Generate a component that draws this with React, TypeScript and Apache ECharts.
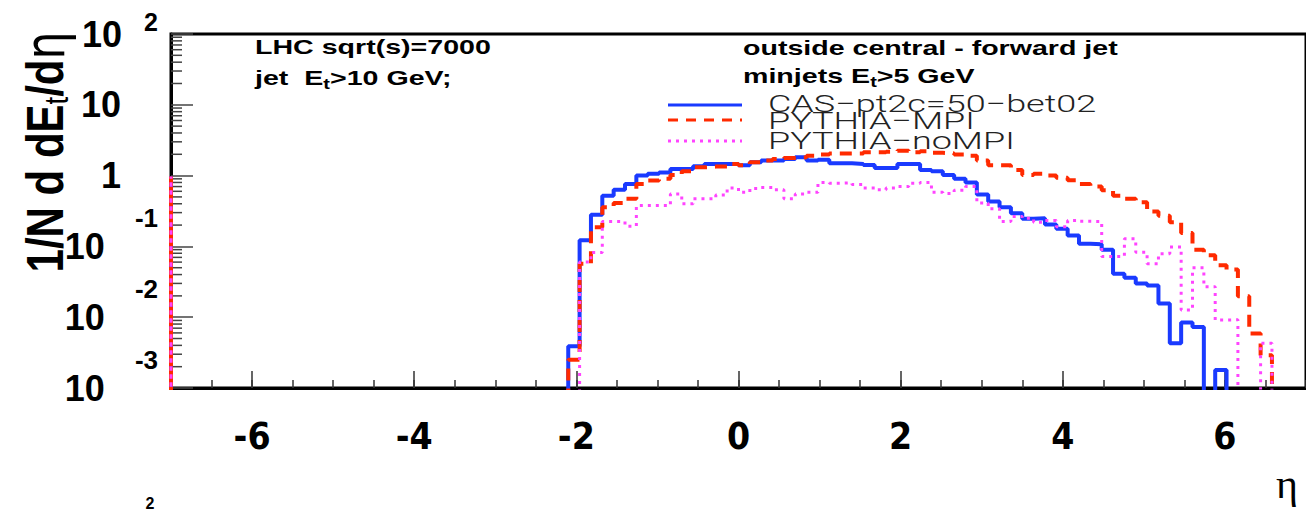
import React, { useEffect, useRef } from "react";
import * as echarts from "echarts";

// ---- axis ranges and ticks ----
const etaMin = -7;
const etaMax = 7;
const yMin = 0.001;
const yMax = 100;
const xMajorTicks = [-6, -4, -2, 0, 2, 4, 6];

// ---- histogram binning (100 bins of 0.14 in eta over [-7, 7]) ----
const binWidth = 0.14;
const firstBinLow = -2.1; // first non-empty bin lower edge
const leftEdgeValue = 0.97; // ROOT draws the histogram frame edge at eta = -7

const seriesNames = ["CAS\u2212pt2c=50\u2212bet02", "PYTHIA\u2212MPI", "PYTHIA\u2212noMPI"];

// values per bin, starting at eta = -2.1
const casValues = [
  0.0039, 0.122, 0.28, 0.52, 0.63, 0.76, 1.0, 1.06, 1.11, 1.24, 1.24, 1.35, 1.46, 1.46, 1.46, 1.4,
  1.54, 1.63, 1.63, 1.72, 1.81, 1.63, 1.67, 1.49, 1.49, 1.46, 1.41, 1.28, 1.28, 1.46, 1.46, 1.2,
  1.15, 1.02, 0.9, 0.8, 0.54, 0.43, 0.357, 0.294, 0.245, 0.25, 0.204, 0.177, 0.143, 0.109, 0.107,
  0.09, 0.041, 0.036, 0.03, 0.028, 0.0156, 0.0043, 0.0084, 0.0073, 0, 0.0018,
];
const mpiValues = [
  0.0025, 0.057, 0.187, 0.358, 0.41, 0.47, 0.76, 0.85, 0.9, 1.02, 1.15, 1.31, 1.34, 1.34, 1.46, 1.4,
  1.54, 1.63, 1.72, 1.77, 1.81, 1.91, 1.98, 2.06, 2.06, 2.06, 2.13, 2.13, 2.18, 2.25, 2.13, 2.2,
  2.1, 2.06, 1.98, 1.91, 1.63, 1.4, 1.4, 1.2, 1.02, 1.06, 1.0, 0.93, 0.86, 0.76, 0.7, 0.62, 0.52,
  0.47, 0.42, 0.31, 0.27, 0.22, 0.154, 0.09, 0.075, 0.054, 0.047, 0.0198, 0.0059, 0.0029,
];
const noMpiValues = [
  0, 0.06, 0.082, 0.225, 0.225, 0.193, 0.377, 0.377, 0.377, 0.55, 0.4, 0.47, 0.47, 0.53, 0.67, 0.58,
  0.66, 0.68, 0.63, 0.47, 0.55, 0.58, 0.8, 0.78, 0.79, 0.75, 0.67, 0.63, 0.67, 0.7, 0.78, 0.8,
  0.58, 0.56, 0.62, 0.7, 0.41, 0.34, 0.225, 0.265, 0.25, 0.22, 0.232, 0.19, 0.232, 0.226, 0.225,
  0.072, 0.072, 0.128, 0.083, 0.057, 0.079, 0.098, 0.0126, 0.05, 0.027, 0.0091, 0.0092, 0, 0, 0.0043,
];

const colors = ["#1a3aff", "#ff2a00", "#ff44ff"];

function stepPoints(values: number[]) {
  const floor = 1e-4;
  const pts: number[][] = [
    [etaMin, floor],
    [etaMin, leftEdgeValue],
    [etaMin, floor],
    [firstBinLow, floor],
  ];
  let hi = firstBinLow;
  values.forEach((v, i) => {
    const lo = +(firstBinLow + i * binWidth).toFixed(4);
    hi = +(lo + binWidth).toFixed(4);
    const y = v > 0 ? v : floor;
    pts.push([lo, y], [hi, y]);
  });
  pts.push([hi, floor], [etaMax, floor]);
  return pts;
}

function minorLogTicks() {
  const out: number[][] = [];
  for (let k = -3; k < 2; k++) {
    for (let j = 2; j <= 9; j++) out.push([etaMin, +(j * Math.pow(10, k)).toPrecision(3)]);
  }
  return out;
}

const BOLD = "'Liberation Sans', Arial, Helvetica, sans-serif";

export default function App() {
  const ref = useRef<HTMLDivElement>(null);
  useEffect(() => {
    if (!ref.current) return;
    const chart = echarts.init(ref.current, undefined, { renderer: "svg" });
    const yLabel = (value: number) => {
      const k = Math.round(Math.log10(value));
      if (k === 0) return "{one|1}";
      if (k === 1) return "{b1|10}";
      if (k === 2) return "{b2|10}{e2|2}";
      return "{bn|10}{en|" + k + "}";
    };
    const option: any = {
      animation: false,
      backgroundColor: "#ffffff",
      grid: {
        left: 171,
        top: 34,
        width: 1141,
        height: 354,
        show: true,
        borderColor: "#000",
        borderWidth: 3,
        backgroundColor: "transparent",
      },
      xAxis: [
        {
          type: "value",
          min: etaMin,
          max: etaMax,
          position: "bottom",
          axisLine: { show: true, onZero: false, lineStyle: { color: "#000", width: 3 } },
          axisTick: {
            show: true,
            inside: true,
            length: 17,
            customValues: xMajorTicks,
            lineStyle: { color: "#333", width: 1.5 },
          },
          axisLabel: {
            show: true,
            customValues: xMajorTicks,
            margin: 30,
            fontSize: 37,
            fontWeight: "bold",
            lineHeight: 37,
            fontFamily: "'Liberation Sans Narrow', 'DejaVu Sans Condensed', 'Liberation Sans', sans-serif",
            color: "#000",
          },
          splitLine: { show: false },
        },
        {
          type: "value",
          min: etaMin,
          max: etaMax,
          interval: 0.5,
          position: "bottom",
          axisLine: { show: false, onZero: false },
          axisTick: { show: true, inside: true, length: 8, lineStyle: { color: "#333", width: 1.5 } },
          axisLabel: { show: false },
          splitLine: { show: false },
        },
      ],
      yAxis: {
        type: "log",
        logBase: 10,
        min: yMin,
        max: yMax,
        position: "left",
        axisLine: { show: true, onZero: false, lineStyle: { color: "#000", width: 3 } },
        axisTick: { show: true, inside: true, length: 22, lineStyle: { color: "#444", width: 1.5 } },
        splitLine: { show: false },
        axisLabel: {
          margin: 13,
          formatter: yLabel,
          color: "#000",
          rich: {
            one: { fontSize: 36, fontWeight: "bold", fontFamily: BOLD, padding: [0, 37, 0, 0] },
            b1: { fontSize: 36, fontWeight: "bold", fontFamily: BOLD, padding: [0, 37, 0, 0] },
            b2: { fontSize: 36, fontWeight: "bold", fontFamily: BOLD, lineHeight: 50 },
            e2: { fontSize: 25, fontWeight: "bold", fontFamily: BOLD, lineHeight: 20, verticalAlign: "top", padding: [0, 0, 0, 22] },
            bn: { fontSize: 36, fontWeight: "bold", fontFamily: BOLD, lineHeight: 82 },
            en: { fontSize: 26, fontWeight: "bold", fontFamily: BOLD, lineHeight: 20, verticalAlign: "top", padding: [0, 0, 0, 30] },
          },
        },
      },
      series: [
        {
          type: "custom",
          name: "yMinorTicks",
          silent: true,
          clip: false,
          data: minorLogTicks(),
          encode: { x: 0, y: 1 },
          renderItem: (_p: any, api: any) => {
            const p = api.coord([api.value(0), api.value(1)]);
            return {
              type: "line",
              shape: { x1: p[0], y1: p[1], x2: p[0] + 11, y2: p[1] },
              style: { stroke: "#444", lineWidth: 1.5 },
            };
          },
          z: 1,
        },
        {
          name: seriesNames[0],
          type: "line",
          data: stepPoints(casValues),
          showSymbol: false,
          symbol: "none",
          clip: true,
          lineStyle: { color: colors[0], width: 4 },
          itemStyle: { color: colors[0] },
          z: 3,
        },
        {
          name: seriesNames[1],
          type: "line",
          data: stepPoints(mpiValues),
          showSymbol: false,
          symbol: "none",
          clip: true,
          lineStyle: { color: colors[1], width: 4, type: [12, 8] },
          itemStyle: { color: colors[1] },
          z: 4,
        },
        {
          name: seriesNames[2],
          type: "line",
          data: stepPoints(noMpiValues),
          showSymbol: false,
          symbol: "none",
          clip: true,
          lineStyle: { color: colors[2], width: 3, type: [3, 5] },
          itemStyle: { color: colors[2] },
          z: 5,
        },
      ],
      graphic: [
        // y axis title
        {
          type: "text",
          x: 45,
          y: 152,
          rotation: Math.PI / 2,
          scaleX: 1.05,
          scaleY: 1.3,
          style: {
            text: "1/N d dE{s|t}/d{eta|\u03b7}",
            align: "center",
            verticalAlign: "middle",
            textAlign: "center",
            textVerticalAlign: "middle",
            fontSize: 40,
            fontWeight: "bold",
            fontFamily: BOLD,
            fill: "#000",
            rich: {
              s: { fontSize: 26, fontWeight: "normal", fontFamily: BOLD, padding: [18, 0, 0, 0] },
              eta: { fontSize: 42, fontWeight: "normal", fontFamily: "'DejaVu Sans', sans-serif" },
            },
          },
        },
        // x axis title
        {
          type: "text",
          x: 1276,
          y: 484,
          style: {
            text: "\u03b7",
            align: "left",
            verticalAlign: "middle",
            fontSize: 42,
            fontFamily: "'Liberation Serif', 'DejaVu Serif', serif",
            fill: "#000",
          },
        },
        // neighbouring panel label at the bottom edge
        {
          type: "text",
          x: 150,
          y: 503,
          style: { text: "2", align: "center", verticalAlign: "middle", fontSize: 16, fontWeight: "bold", fontFamily: BOLD, fill: "#000" },
        },
        // annotations
        ...[
          { x: 255, y: 47, t: "LHC sqrt(s)=7000" },
          { x: 255, y: 78, t: "jet  E{s|t}>10 GeV;" },
          { x: 743, y: 48, t: "outside central - forward jet" },
          { x: 743, y: 76, t: "minjets E{s|t}>5 GeV" },
        ].map((a) => ({
          type: "text",
          x: a.x,
          y: a.y,
          scaleX: 1.43,
          style: {
            text: a.t,
            align: "left",
            verticalAlign: "middle",
            fontSize: 20,
            fontWeight: "bold",
            fontFamily: BOLD,
            fill: "#000",
            rich: { s: { fontSize: 14, fontWeight: "bold", fontFamily: BOLD, padding: [12, 0, 0, 0] } },
          },
        })),
        // legend
        { type: "line", shape: { x1: 668, y1: 105, x2: 742, y2: 105 }, style: { stroke: colors[0], lineWidth: 3 } },
        { type: "line", shape: { x1: 668, y1: 120, x2: 742, y2: 120 }, style: { stroke: colors[1], lineWidth: 3, lineDash: [10, 8] } },
        { type: "line", shape: { x1: 668, y1: 141, x2: 742, y2: 141 }, style: { stroke: colors[2], lineWidth: 3, lineDash: [3, 5] } },
        ...seriesNames.map((n, i) => ({
          type: "text",
          x: 768,
          y: [104, 121, 141][i],
          scaleX: 1.5,
          style: {
            text: n,
            align: "left",
            verticalAlign: "middle",
            fontSize: 24,
            fontWeight: 300,
            fontFamily: "Roboto, 'DejaVu Sans', sans-serif",
            fill: "#222",
          },
        })),
      ],
    };
    chart.setOption(option);
    return () => chart.dispose();
  }, []);
  return (
    <div
      ref={ref}
      style={{ position: "absolute", left: 0, top: 0, width: 1306, height: 512, overflow: "hidden", background: "#fff" }}
    />
  );
}
